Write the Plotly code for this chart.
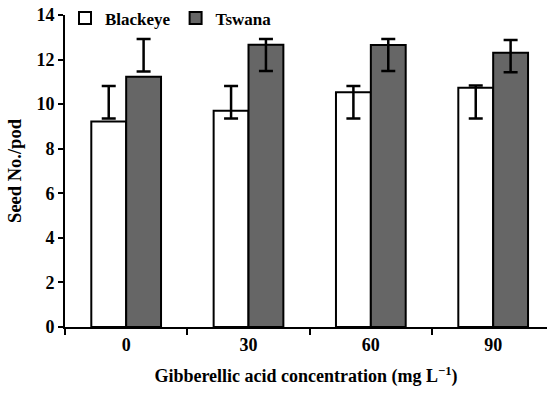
import plotly.graph_objects as go

categories = ["0", "30", "60", "90"]
blackeye = [9.22, 9.70, 10.53, 10.74]
blackeye_err_hi = [10.81, 10.81, 10.81, 10.84]
blackeye_err_lo = [9.36, 9.36, 9.36, 9.36]
tswana = [11.23, 12.66, 12.65, 12.31]
tswana_err_hi = [12.92, 12.92, 12.92, 12.88]
tswana_err_lo = [11.46, 11.49, 11.49, 11.43]

FONT = "Liberation Serif"


def err(vals, hi, lo):
    return dict(
        type="data",
        symmetric=False,
        array=[h - v for h, v in zip(hi, vals)],
        arrayminus=[v - l for l, v in zip(lo, vals)],
        color="black",
        thickness=2.5,
        width=7,
    )


fig = go.Figure()
fig.add_trace(go.Bar(
    name="<b>Blackeye</b>", x=categories, y=blackeye,
    marker=dict(color="white", line=dict(color="black", width=2)),
    error_y=err(blackeye, blackeye_err_hi, blackeye_err_lo),
))
fig.add_trace(go.Bar(
    name="<b>Tswana</b>", x=categories, y=tswana,
    marker=dict(color="#666666", line=dict(color="black", width=2)),
    error_y=err(tswana, tswana_err_hi, tswana_err_lo),
))

fig.update_layout(
    width=547, height=393,
    margin=dict(l=65, r=0, t=15, b=66),
    paper_bgcolor="white", plot_bgcolor="white",
    barmode="group", bargap=0.43, bargroupgap=0,
    font=dict(family=FONT, color="black", size=15),
    legend=dict(
        orientation="h", x=0.0, y=1.047, xanchor="left", yanchor="top",
        font=dict(family=FONT, size=17, color="black"),
        bgcolor="rgba(0,0,0,0)", itemwidth=30, traceorder="normal",
    ),
    xaxis=dict(
        type="category", range=[-0.5, 3.44],
        showline=True, linecolor="black", linewidth=2,
        ticks="outside", tickson="boundaries", ticklen=6, tickwidth=2, tickcolor="black",
        tickprefix="<b>", ticksuffix="</b>",
        tickfont=dict(family=FONT, size=18, color="black"),
        showgrid=False,
        title=dict(text="<b>Gibberellic acid concentration (mg L<sup>\u22121</sup>)</b>",
                   font=dict(family=FONT, size=18, color="black"), standoff=16),
    ),
    yaxis=dict(
        range=[0, 14], dtick=2,
        showline=True, linecolor="black", linewidth=2,
        ticks="outside", ticklen=5, tickwidth=2, tickcolor="black",
        tickprefix="<b>", ticksuffix="</b>",
        tickfont=dict(family=FONT, size=18, color="black"),
        showgrid=False, zeroline=False,
        title=dict(text="<b>Seed No./pod</b>", font=dict(family=FONT, size=18.5, color="black"), standoff=10),
    ),
)

fig.write_html("out.html")
